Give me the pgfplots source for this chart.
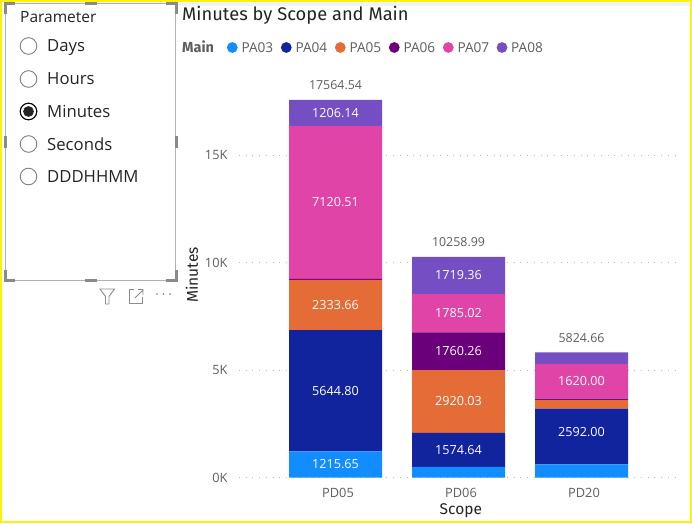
\documentclass[border=0pt]{standalone}
\usepackage{pgfplots}
\pgfplotsset{compat=1.18}
\usepackage{fontspec}
\setmainfont{Open Sans}
\newfontfamily\din{Fira Sans}
\definecolor{pa3}{HTML}{118DFF}
\definecolor{pa4}{HTML}{12239E}
\definecolor{pa5}{HTML}{E66C37}
\definecolor{pa6}{HTML}{6B007B}
\definecolor{pa7}{HTML}{E044A7}
\definecolor{pa8}{HTML}{744EC2}
\definecolor{lab}{HTML}{605E5C}
\definecolor{ttl}{HTML}{252423}
\definecolor{hnd}{HTML}{8A8A8A}
\pgfplotsset{frame/.style={at={(239pt,45.5pt)},anchor=south west,scale only axis,
  width=441pt,height=430pt,xmin=-0.7846,xmax=2.8008,ymin=0,ymax=20000,clip=false}}
\begin{document}
\begin{tikzpicture}[x=1pt,y=1pt]
\path[use as bounding box] (0,0) rectangle (692,523);
\fill[white] (0,0) rectangle (692,523);
\fill[black!5] (178,517) rectangle (692,520);
% chart
\begin{axis}[frame,ybar stacked,bar width=93pt,
  axis line style={draw=none},major tick length=0pt,scaled y ticks=false,
  xtick={0,1,2},xticklabels={PD05,PD06,PD20},
  ytick={0,5000,10000,15000},yticklabels={0K,5K,10K,15K},
  ymajorgrids,xmajorgrids=false,
  grid style={draw=black!28,line width=0.8pt,dash pattern=on 1pt off 5.7pt},
  tick label style={font=\fontsize{12.8}{14}\selectfont,text=lab},
  yticklabel style={anchor=east,xshift=-8pt},
  xticklabel style={anchor=center,yshift=-15pt,xshift=2.5pt},
  xlabel={Scope},ylabel={Minutes},
  xlabel style={at={(axis description cs:0.503,-0.078)},anchor=center,font=\din\fontsize{15.5}{16}\selectfont,text=ttl},
  ylabel style={at={(axis description cs:-0.1066,0.471)},anchor=center,rotate=0,font=\din\fontsize{15.5}{16}\selectfont,text=ttl},
  ]
\addplot[fill=pa3,draw=none] coordinates {(0,1215.65) (1,499.68) (2,608)};
\addplot[fill=pa4,draw=none] coordinates {(0,5644.80) (1,1574.64) (2,2592)};
\addplot[fill=pa5,draw=none] coordinates {(0,2333.66) (1,2920.03) (2,405)};
\addplot[fill=pa6,draw=none] coordinates {(0,43.78) (1,1760.26) (2,60)};
\addplot[fill=pa7,draw=none] coordinates {(0,7120.51) (1,1785.02) (2,1620)};
\addplot[fill=pa8,draw=none] coordinates {(0,1206.14) (1,1719.36) (2,539.66)};
\end{axis}
% labels
\begin{axis}[frame,hide axis]
\addplot[only marks,mark=none,point meta=explicit symbolic,nodes near coords,
  nodes near coords style={anchor=center,text=white,font=\fontsize{12.6}{14}\selectfont,inner sep=0pt}]
  coordinates {(0,607.8)[1215.65] (0,4038.05)[5644.80] (0,8027.28)[2333.66] (0,12798.15)[7120.51] (0,16961.47)[1206.14]
  (1,1287)[1574.64] (1,3534.3)[2920.03] (1,5874.5)[1760.26] (1,7647.1)[1785.02] (1,9399.3)[1719.36]
  (2,2104)[2592.00] (2,4475)[1620.00]};
\addplot[only marks,mark=none,point meta=explicit symbolic,nodes near coords,
  nodes near coords style={anchor=center,yshift=14.5pt,text=lab,font=\fontsize{12.4}{14}\selectfont,inner sep=0pt}]
  coordinates {(0,17564.54)[17564.54] (1,10258.99)[10258.99] (2,5824.66)[5824.66]};
\end{axis}
% title and legend
\node[anchor=base west,inner sep=0pt,text=ttl,font=\din\fontsize{18.3}{20}\selectfont] at (182,502.5) {Minutes by Scope and Main};
\node[anchor=base west,inner sep=0pt,text=lab,font=\din\bfseries\fontsize{14.5}{16}\selectfont] at (182,470.5) {Main};
\foreach \cx/\c/\t in {232.3/pa3/PA03,286.3/pa4/PA04,340.3/pa5/PA05,394.3/pa6/PA06,448.3/pa7/PA07,502/pa8/PA08}{
  \fill[\c] (\cx,475.5) circle (5.4);
  \node[anchor=base west,inner sep=0pt,text=lab,font=\fontsize{13.6}{15}\selectfont] at (\cx+9,470.7) {\t};
}
% slicer
\draw[black!30,line width=1pt] (5.5,243) rectangle (175.5,519);
\node[anchor=base west,inner sep=0pt,text=ttl,font=\fontsize{15.5}{18}\selectfont] at (20,500.5) {Parameter};
\foreach \yy/\t in {477/Days,444/Hours,411.5/Minutes,379/Seconds,346.5/DDDHHMM}{
  \draw[black!50,line width=0.9pt] (28.5,\yy) circle (8.3);
  \node[anchor=base west,inner sep=0pt,text=ttl,font=\fontsize{16.7}{20}\selectfont] at (47,\yy-6) {\t};
}
\draw[black,line width=1pt] (28.5,411.5) circle (8.3);
\fill[ttl] (28.5,411.5) circle (5.4);
% handles
\begin{scope}[hnd,line width=3pt]
\draw (5,509) -- (5,519) -- (15,519);
\draw (166,519) -- (176,519) -- (176,509);
\draw (5,253) -- (5,243) -- (15,243);
\draw (166,243) -- (176,243) -- (176,253);
\draw (85,519) -- (97,519);
\draw (85,243) -- (97,243);
\draw (5,375) -- (5,387);
\draw (176,375) -- (176,387);
\end{scope}
% icons
\draw[black!45,line width=0.9pt] (100,234) -- (114.5,234) -- (109,226.5) -- (109,219) -- (105.5,219) -- (105.5,226.5) -- cycle;
\draw[black!45,line width=0.9pt] (134,234) -- (129,234) -- (129,220) -- (142.5,220) -- (142.5,226);
\draw[black!45,line width=0.9pt] (135,225) -- (143,233) (138,233.5) -- (143,233.5) -- (143,228.5);
\foreach \dx in {157,163.5,170}{\fill[black!55] (\dx,229) circle (0.9);}
% frame
\draw[yellow,line width=2.4pt] (1.2,1.2) rectangle (690.8,521.8);
\end{tikzpicture}
\end{document}
